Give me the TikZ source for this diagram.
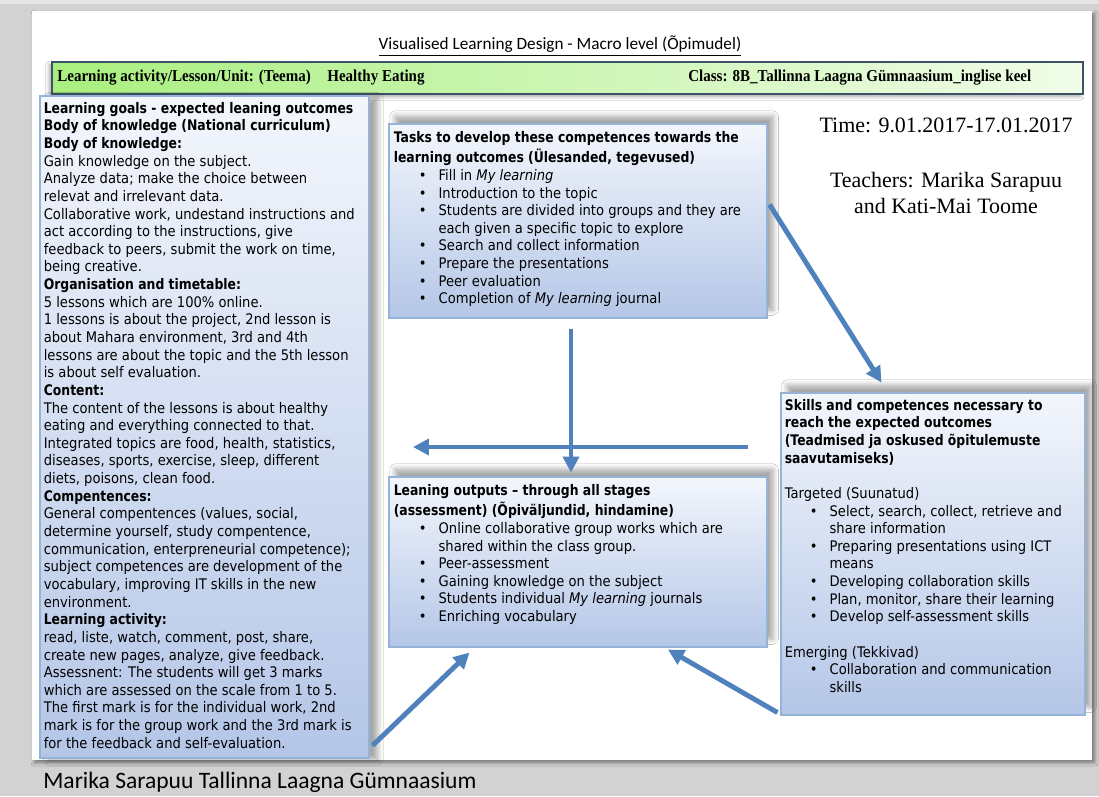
\documentclass[tikz,border=0pt]{standalone}
\usepackage{fontspec}
\setmainfont{DejaVu Sans}[UprightFeatures={FakeStretch=0.9},BoldFeatures={FakeStretch=0.85},ItalicFeatures={FakeStretch=0.9}]
\newfontfamily\barfont{Liberation Serif}[FakeStretch=0.9]
\newfontfamily\timesfont{Liberation Serif}
\newfontfamily\calfont{Carlito}
\usetikzlibrary{arrows.meta,positioning,calc,fit,shadows.blur}

\definecolor{pagegray}{HTML}{D2D2D2}
\definecolor{pagelight}{HTML}{E4E4E4}
\definecolor{boxtop}{HTML}{F3F6FC}
\definecolor{boxbot}{HTML}{B4C6E7}
\definecolor{boxline}{HTML}{95B3D7}
\definecolor{barleft}{HTML}{A9EF7F}
\definecolor{barright}{HTML}{F1FDE9}
\definecolor{barline}{HTML}{3C5266}
\definecolor{arrowblue}{HTML}{4F81BD}

\newcommand{\bitem}{\hspace*{14.2pt}\makebox[11.3pt][l]{\textbullet}}
\newcommand{\bcont}{\hspace*{25.5pt}}

\tikzset{
  bluebox/.style={draw=boxline, line width=0.6pt, top color=boxtop, bottom color=boxbot, inner sep=0pt},
  upshadow/.style={blur shadow={shadow xshift=3.5pt, shadow yshift=4.5pt, shadow blur radius=3pt, shadow blur steps=8, shadow opacity=35}},
  sideshadow/.style={blur shadow={shadow xshift=5pt, shadow yshift=-1pt, shadow blur radius=3pt, shadow blur steps=8, shadow opacity=35}},
  boxtext/.style={anchor=north west, inner sep=0pt, align=left, font=\fontsize{8.3}{10.04}\selectfont},
  bartext/.style={anchor=west, inner sep=0pt, font=\barfont\bfseries\fontsize{9.5}{11}\selectfont},
  flow/.style={draw=arrowblue, line width=2.8pt, -{Triangle[length=9pt,width=9pt]}},
}

\begin{document}
\begin{tikzpicture}[x=0.02cm, y=-0.02cm]

    \useasboundingbox (0,0) rectangle (1099,796);

    % slide page
    \fill[pagegray] (0,0) rectangle (1099,796);
    \fill[pagelight] (0,0) rectangle (1099,4);
    \fill[white, blur shadow={shadow xshift=1.5pt, shadow yshift=-1.5pt, shadow blur radius=2pt, shadow blur steps=5, shadow opacity=45}]
      (32,11) rectangle (1092,760);

    \node[font=\calfont\fontsize{9.8}{12}\selectfont] (title) at (560,46)
      {\underline{Visualised Learning Design - Macro level (Õpimudel)}};

    % unit bar
    \node[draw=barline, line width=0.7pt, left color=barleft, right color=barright, inner sep=0pt,
          blur shadow={shadow xshift=-1.5pt, shadow yshift=-1.5pt, shadow blur radius=2pt, shadow blur steps=5, shadow opacity=35},
          fit={(52,62) (1083,94)}] (unit) {};
    \node[bartext] (unit name) at (57,78) {Learning activity/Lesson/Unit: (Teema)};
    \node[bartext] (topic) at (327,78) {Healthy Eating};
    \node[bartext] (class) at (688,78) {Class: 8B\_Tallinna Laagna Gümnaasium\_inglise keel};

    % boxes
    \node[bluebox, sideshadow, fit={(40,96) (369,758)}] (goals) {};
    \node[bluebox, upshadow, fit={(389,124) (767,318)}] (tasks) {};
    \node[bluebox, upshadow, fit={(389,477) (767,647)}] (outputs) {};
    \node[bluebox, upshadow, fit={(781,393) (1085,715)}] (skills) {};

    \node[boxtext] (goals text) at ($(goals.north west)+(4,5)$) {\strut\textbf{Learning goals - expected leaning outcomes}\\
      \textbf{Body of knowledge (National curriculum)}\\
      \textbf{Body of knowledge:}\\
      Gain knowledge on the subject.\\
      Analyze data; make the choice between\\
      relevat and irrelevant data.\\
      Collaborative work, undestand instructions and\\
      act according to the instructions, give\\
      feedback to peers, submit the work on time,\\
      being creative.\\
      \textbf{Organisation and timetable:}\\
      5 lessons which are 100\% online.\\
      1 lessons is about the project, 2nd lesson is\\
      about Mahara environment, 3rd and 4th\\
      lessons are about the topic and the 5th lesson\\
      is about self evaluation.\\
      \textbf{Content:}\\
      The content of the lessons is about healthy\\
      eating and everything connected to that.\\
      Integrated topics are food, health, statistics,\\
      diseases, sports, exercise, sleep, different\\
      diets, poisons, clean food.\\
      \textbf{Compentences:}\\
      General compentences (values, social,\\
      determine yourself, study compentence,\\
      communication, enterpreneurial competence);\\
      subject competences are development of the\\
      vocabulary, improving IT skills in the new\\
      environment.\\
      \textbf{Learning activity:}\\
      read, liste, watch, comment, post, share,\\
      create new pages, analyze, give feedback.\\
      Assessnent: The students will get 3 marks\\
      which are assessed on the scale from 1 to 5.\\
      The first mark is for the individual work, 2nd\\
      mark is for the group work and the 3rd mark is\\
      for the feedback and self-evaluation.};

    \node[boxtext] (tasks text) at ($(tasks.north west)+(5,6)$) {\strut\textbf{Tasks to develop these competences towards the}\\
      \textbf{learning outcomes (Ülesanded, tegevused)}\\
      \bitem Fill in \textit{My learning}\\
      \bitem Introduction to the topic\\
      \bitem Students are divided into groups and they are\\
      \bcont each given a specific topic to explore\\
      \bitem Search and collect information\\
      \bitem Prepare the presentations\\
      \bitem Peer evaluation\\
      \bitem Completion of \textit{My learning} journal};

    \node[boxtext] (outputs text) at ($(outputs.north west)+(5,6)$) {\strut\textbf{Leaning outputs -- through all stages}\\
      \textbf{(assessment) (Õpiväljundid, hindamine)}\\
      \bitem Online collaborative group works which are\\
      \bcont shared within the class group.\\
      \bitem Peer-assessment\\
      \bitem Gaining knowledge on the subject\\
      \bitem Students individual \textit{My learning} journals\\
      \bitem Enriching vocabulary};

    \node[boxtext] (skills text) at ($(skills.north west)+(4,5)$) {\strut\textbf{Skills and competences necessary to}\\
      \textbf{reach the expected outcomes}\\
      \textbf{(Teadmised ja oskused õpitulemuste}\\
      \textbf{saavutamiseks)}\\
      \mbox{}\\
      Targeted (Suunatud)\\
      \bitem Select, search, collect, retrieve and\\
      \bcont share information\\
      \bitem Preparing presentations using ICT\\
      \bcont means\\
      \bitem Developing collaboration skills\\
      \bitem Plan, monitor, share their learning\\
      \bitem Develop self-assessment skills\\
      \mbox{}\\
      Emerging (Tekkivad)\\
      \bitem Collaboration and communication\\
      \bcont skills};

    \node[font=\timesfont\fontsize{12.5}{14.7}\selectfont] (time) at (946,125) {Time: 9.01.2017-17.01.2017};
    \node[font=\timesfont\fontsize{12.5}{14.7}\selectfont, align=center] (teachers) at (946,193)
      {Teachers: Marika Sarapuu\\and Kati-Mai Toome};

    % arrows
    \coordinate (cross right) at (748,447);
    \coordinate (cross left)  at (413,447);
    \draw[flow] ($(tasks.north east)+(2,81)$) -- ($(skills.north west)+(101,-10)$);
    \draw[flow] ($(tasks.south)+(-7,10)$) -- ($(outputs.north)+(-7,-4)$);
    \draw[flow] (cross right) -- (cross left);
    \draw[flow] ($(goals.south east)+(3,-13)$) -- ($(outputs.south west)+(81,5)$);
    \draw[flow] ($(skills.south west)+(-3,-3)$) -- ($(outputs.south)+(90,2)$);

    \node[anchor=west, inner sep=0pt, font=\calfont\fontsize{13.4}{16}\selectfont] (footer) at (43,782)
      {Marika Sarapuu Tallinna Laagna Gümnaasium};

\end{tikzpicture}
\end{document}
